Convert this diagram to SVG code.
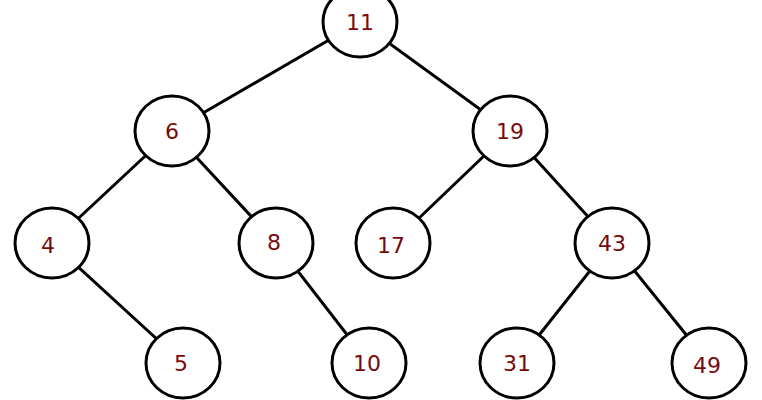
<svg xmlns="http://www.w3.org/2000/svg" width="762" height="400" viewBox="0 0 762 400">
<style>
.n ellipse{fill:#fff;stroke:#000;stroke-width:3}
.n text{font-family:"DejaVu Sans",sans-serif;font-size:22px;fill:#7a0a0a;text-anchor:middle;dominant-baseline:central}
#edges line{stroke:#000;stroke-width:3}
</style>
<rect width="762" height="400" fill="#fff"/>
<g id="edges">
<line x1="360" y1="22" x2="172" y2="131"/>
<line x1="360" y1="22" x2="510" y2="131"/>
<line x1="172" y1="131" x2="52" y2="243"/>
<line x1="172" y1="131" x2="276" y2="243"/>
<line x1="510" y1="131" x2="393" y2="243"/>
<line x1="510" y1="131" x2="612" y2="243"/>
<line x1="52" y1="243" x2="183" y2="363"/>
<line x1="276" y1="243" x2="369" y2="363"/>
<line x1="612" y1="243" x2="517" y2="363"/>
<line x1="612" y1="243" x2="709" y2="363"/>
</g>
<g id="n11" class="n"><ellipse cx="360" cy="22" rx="37" ry="35"/><text x="360" y="22">11</text></g>
<g id="n6" class="n"><ellipse cx="172" cy="131" rx="37" ry="35"/><text x="172" y="131">6</text></g>
<g id="n19" class="n"><ellipse cx="510" cy="131" rx="37" ry="35"/><text x="510" y="131">19</text></g>
<g id="n4" class="n"><ellipse cx="52" cy="243" rx="37" ry="35"/><text x="48" y="245">4</text></g>
<g id="n8" class="n"><ellipse cx="276" cy="243" rx="37" ry="35"/><text x="274" y="242">8</text></g>
<g id="n17" class="n"><ellipse cx="393" cy="243" rx="37" ry="35"/><text x="391" y="245">17</text></g>
<g id="n43" class="n"><ellipse cx="612" cy="243" rx="37" ry="35"/><text x="612" y="243">43</text></g>
<g id="n5" class="n"><ellipse cx="183" cy="363" rx="37" ry="35"/><text x="181" y="363">5</text></g>
<g id="n10" class="n"><ellipse cx="369" cy="363" rx="37" ry="35"/><text x="367" y="363">10</text></g>
<g id="n31" class="n"><ellipse cx="517" cy="363" rx="37" ry="35"/><text x="517" y="363">31</text></g>
<g id="n49" class="n"><ellipse cx="709" cy="363" rx="37" ry="35"/><text x="707" y="365">49</text></g>
</svg>
